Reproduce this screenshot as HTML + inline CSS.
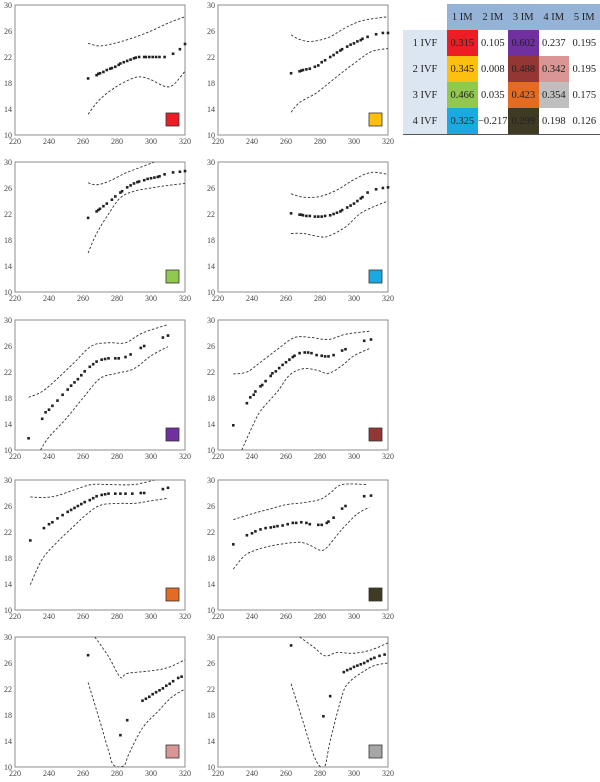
<!DOCTYPE html>
<html><head><meta charset="utf-8"><style>
body{margin:0;background:#fff;width:600px;height:782px;overflow:hidden;position:relative;font-family:"Liberation Serif",serif}
svg{position:absolute;left:0;top:0}
table{position:absolute;left:403px;top:4px;border-collapse:collapse;font-size:10.5px;color:#222}
td,th{height:26px;padding:0;text-align:center;font-weight:normal}
th{background:#95b3d7;width:30.5px}
th.blank{background:#fff;width:44px}
td.lab{background:#dce6f2}
tr:last-child td{border-bottom:1.5px solid #555}
</style></head><body>
<svg id="chart" width="600" height="782"></svg>
<table>
<tr><th class="blank"></th><th>1 IM</th><th>2 IM</th><th>3 IM</th><th>4 IM</th><th>5 IM</th></tr>
<tr><td class="lab">1 IVF</td><td style="background:#ee1c25">0.315</td><td>0.105</td><td style="background:#7030a0">0.602</td><td>0.237</td><td>0.195</td></tr>
<tr><td class="lab">2 IVF</td><td style="background:#fdc00f">0.345</td><td>0.008</td><td style="background:#943634">0.488</td><td style="background:#d99694">0.342</td><td>0.195</td></tr>
<tr><td class="lab">3 IVF</td><td style="background:#92c84f">0.466</td><td>0.035</td><td style="background:#e46c22">0.423</td><td style="background:#bfbfbf">0.354</td><td>0.175</td></tr>
<tr><td class="lab">4 IVF</td><td style="background:#1ba9e1">0.325</td><td>−0.217</td><td style="background:#3e3a23">0.299</td><td>0.198</td><td>0.126</td></tr>
</table>
<script>
const xTicks=[220,240,260,280,300,320];
const yTicks=[10,14,18,22,26,30];
const colors=["#ee1c25","#fdc00f","#92c84f","#1ba9e1","#7030a0","#943634","#e46c22","#3e3a23","#d99694","#a6a6a6"];
const p1x=[263,268,269,270,272,274,276,277,279,281,282,284,286,288,290,291,293,296,297,299,301,303,305,308,313,317,320];
const p1y=[18.7,19.2,19.4,19.5,19.7,20,20.2,20.3,20.5,20.8,21,21.2,21.4,21.6,21.8,21.9,22,22,22,22,22,22,22,22,22.5,23.2,24];
const u1x=[263,270,280,290,300,310,320];const u1y=[24.1,23.7,24.2,25,26,27.2,28.2];
const l1x=[263,270,280,290,295,300,308,313,320];const l1y=[13.2,15.5,17.5,18.8,18.9,18.5,17.5,17.7,19.8];
const p2x=[263,268,269,270,272,274,277,279,281,283,286,288,290,292,293,296,298,300,302,304,305,308,313,317,320];
const p2y=[19.5,19.8,19.9,20,20.1,20.2,20.5,20.7,21.2,21.5,22,22.3,22.7,23,23.2,23.6,23.9,24.1,24.4,24.6,24.8,25.1,25.5,25.7,25.7];
const u2x=[263,268,275,285,295,305,320];const u2y=[25.4,24.7,24.4,25,26.5,27.6,28.2];
const l2x=[263,268,278,290,300,310,320];const l2y=[13.5,15,16.5,19,21,22.8,23.3];
const p3x=[263,268,269,270,272,274,277,279,282,283,286,288,290,292,293,296,298,300,302,304,305,308,313,317,320];
const p3y=[21.4,22.4,22.6,22.8,23.2,23.6,24.2,24.7,25.3,25.5,26.1,26.4,26.7,26.9,27,27.2,27.4,27.5,27.6,27.7,27.8,28.1,28.4,28.5,28.6];
const u3x=[263,268,275,285,295,302];const u3y=[26.8,26.5,27,28.3,29.3,30];
const l3x=[263,268,275,282,290,300,310,320];const l3y=[16,19,22,24.5,25.5,26,26.4,26.7];
const p4x=[263,268,269,270,272,274,277,279,281,283,286,288,290,292,293,296,298,300,302,304,305,308,313,317,320];
const p4y=[22.1,21.9,21.9,21.8,21.7,21.7,21.6,21.6,21.6,21.7,21.8,22,22.2,22.4,22.6,23,23.3,23.6,24,24.4,24.6,25.3,25.8,26,26.1];
const u4x=[263,270,280,290,300,310,320];const u4y=[25.1,24.6,24.7,25.7,27.3,28.4,28.1];
const l4x=[263,270,280,285,295,305,320];const l4y=[19,19,18.5,18.6,20,22.3,24];
const p5x=[228,236,238,240,242,245,248,251,253,255,257,259,261,264,266,268,271,273,275,279,281,285,288,294,296,307,310];
const p5y=[11.8,14.8,15.8,16.2,16.8,17.6,18.5,19.3,19.9,20.4,20.9,21.5,22.1,22.8,23.2,23.6,23.9,24,24.1,24.1,24.1,24.3,24.7,25.7,26,27.3,27.6];
const u5x=[228,236,245,255,265,275,285,295,310];const u5y=[18.1,19,21,23.5,26,26.5,26.5,28,29.3];
const l5x=[235,240,250,260,270,280,290,300,310];const l5y=[10,12,14.8,18,21,21.8,22.5,24.5,25.9];
const p6x=[229,237,239,241,242,245,246,248,251,252,254,256,258,260,262,264,265,268,271,273,275,278,281,283,285,288,293,295,306,310];
const p6y=[13.8,17.2,18.1,18.5,19,19.8,20,20.6,21.4,21.8,22.1,22.6,23.1,23.5,23.9,24.3,24.5,24.9,25,25,24.9,24.6,24.5,24.4,24.4,24.6,25.3,25.5,26.8,27];
const u6x=[229,237,245,255,265,275,285,295,310];const u6y=[21.7,22,23.5,25.5,27.3,27.3,27,27.8,28.3];
const l6x=[234,240,245,255,262,270,278,285,293,300,310];const l6y=[10,13.5,16,19,21.5,22.5,22.3,21.8,23,24.5,25.7];
const p7x=[229,237,240,242,245,248,251,253,255,257,259,261,264,266,268,271,273,275,279,282,285,289,294,296,307,310];
const p7y=[20.7,22.6,23.2,23.5,24.1,24.6,25.1,25.4,25.7,26,26.3,26.6,26.9,27.2,27.5,27.7,27.8,27.9,27.9,27.9,27.9,27.9,28,28,28.6,28.8];
const u7x=[229,237,245,255,265,275,290,302];const u7y=[27.4,27.3,27.6,28.5,29.3,29.3,29.3,30];
const l7x=[229,236,245,255,262,270,280,290,300,310];const l7y=[13.9,17.8,20.5,23,24.7,26.1,26.4,26.4,26.8,27.2];
const p8x=[229,237,240,242,245,248,251,253,255,258,261,264,266,269,272,274,279,281,284,285,288,293,295,306,310];
const p8y=[20.1,21.5,21.8,22.1,22.4,22.6,22.7,22.8,22.9,23,23.2,23.4,23.4,23.5,23.4,23.2,23.1,23.1,23.4,23.6,24.2,25.6,26,27.5,27.6];
const u8x=[229,240,250,260,270,280,286,293,308];const u8y=[23.9,24.8,25.5,26.2,26.5,27,28,29.3,29.3];
const l8x=[229,235,240,250,265,272,280,284,290,295,302,309];const l8y=[16.3,18.2,19,19.8,20.4,20.2,19.2,19.6,21.5,23,24.8,25.8];
const p9x=[263,282,286,295,297,299,301,303,305,307,309,311,313,316,318];
const p9y=[27.2,14.9,17.2,20.2,20.5,20.8,21.2,21.5,21.8,22.1,22.5,22.8,23.2,23.7,23.9];
const u9x=[267,275,282,286,300,310,320];const u9y=[30,27,23.8,24.4,24.8,25.3,26.5];
const l9x=[263,270,275,278,284,287,295,305,312,320];const l9y=[23,17,12.5,10.3,10.2,12,16,18.8,20.7,22];
const p10x=[263,282,286,294,296,298,300,302,304,306,308,310,312,315,318];
const p10y=[28.7,17.8,20.9,24.6,24.9,25.1,25.4,25.6,25.8,26,26.3,26.6,26.8,27.1,27.3];
const u10x=[268,276,283,290,300,310,320];const u10y=[30,28.5,27.1,27.6,27.5,28,29.1];
const l10x=[263,270,276,280,283,286,293,297,305,312,320];const l10y=[22.8,17,12,10.1,10.2,14,21,23,24.6,25.6,26];
const panels=[[p1x,p1y,u1x,u1y,l1x,l1y],[p2x,p2y,u2x,u2y,l2x,l2y],[p3x,p3y,u3x,u3y,l3x,l3y],[p4x,p4y,u4x,u4y,l4x,l4y],[p5x,p5y,u5x,u5y,l5x,l5y],[p6x,p6y,u6x,u6y,l6x,l6y],[p7x,p7y,u7x,u7y,l7x,l7y],[p8x,p8y,u8x,u8y,l8x,l8y],[p9x,p9y,u9x,u9y,l9x,l9y],[p10x,p10y,u10x,u10y,l10x,l10y]];
const NS="http://www.w3.org/2000/svg";
const svg=document.getElementById('chart');
function mk(t,a,parent){const e=document.createElementNS(NS,t);for(const k in a)e.setAttribute(k,a[k]);(parent||svg).appendChild(e);return e;}
const lefts=[15,218],tops=[5,162,320,480,637],W=170,H=130;
function smooth(pts){let d='M'+pts[0][0]+','+pts[0][1];for(let i=0;i<pts.length-1;i++){const p0=pts[i-1]||pts[i],p1=pts[i],p2=pts[i+1],p3=pts[i+2]||p2;const c1=[p1[0]+(p2[0]-p0[0])/6,p1[1]+(p2[1]-p0[1])/6],c2=[p2[0]-(p3[0]-p1[0])/6,p2[1]-(p3[1]-p1[1])/6];d+=' C'+c1+' '+c2+' '+p2;}return d;}
panels.forEach((pd,i)=>{
  const L=lefts[i%2],T=tops[Math.floor(i/2)];
  const sx=v=>L+(v-220)/100*W, sy=v=>T+H-(v-10)/20*H;
  const g=mk('g',{});
  
  
  const fr=mk('rect',{x:L,y:T,width:W,height:H,fill:'none',stroke:'#8c8c8c','stroke-width':1},g);
  
  
  xTicks.forEach(v=>{const t=mk('text',{x:sx(v),y:T+H+9,'font-size':8,'text-anchor':'middle',fill:'#444','font-family':'Liberation Serif,serif'},g);t.textContent=v;
    
    });
  yTicks.forEach(v=>{const t=mk('text',{x:L-3,y:sy(v)+3,'font-size':8,'text-anchor':'end',fill:'#444','font-family':'Liberation Serif,serif'},g);t.textContent=v;
    
    });
  const cp='c'+i;const cl=mk('clipPath',{id:cp},g);mk('rect',{x:L,y:T,width:W,height:H},cl);
  [[pd[2],pd[3],'upper-band'],[pd[4],pd[5],'lower-band']].forEach(([xs,ys,nm])=>{
    const pts=xs.map((x,k)=>[sx(x),sy(ys[k])]);
    const p=mk('path',{d:smooth(pts),fill:'none',stroke:'#333','stroke-width':0.9,'stroke-dasharray':'2.5,1.8','clip-path':'url(#'+cp+')'},g);
    
    
  });
  pd[0].forEach((x,k)=>{const r=mk('rect',{x:sx(x)-1.3,y:sy(pd[1][k])-1.3,width:2.6,height:2.6,fill:'#222'},g);
    
    });
  const sq=mk('rect',{x:L+W-19,y:T+H-22,width:13,height:13,fill:colors[i],stroke:'#333','stroke-width':0.8},g);
  
  
});
</script>
</body></html>
